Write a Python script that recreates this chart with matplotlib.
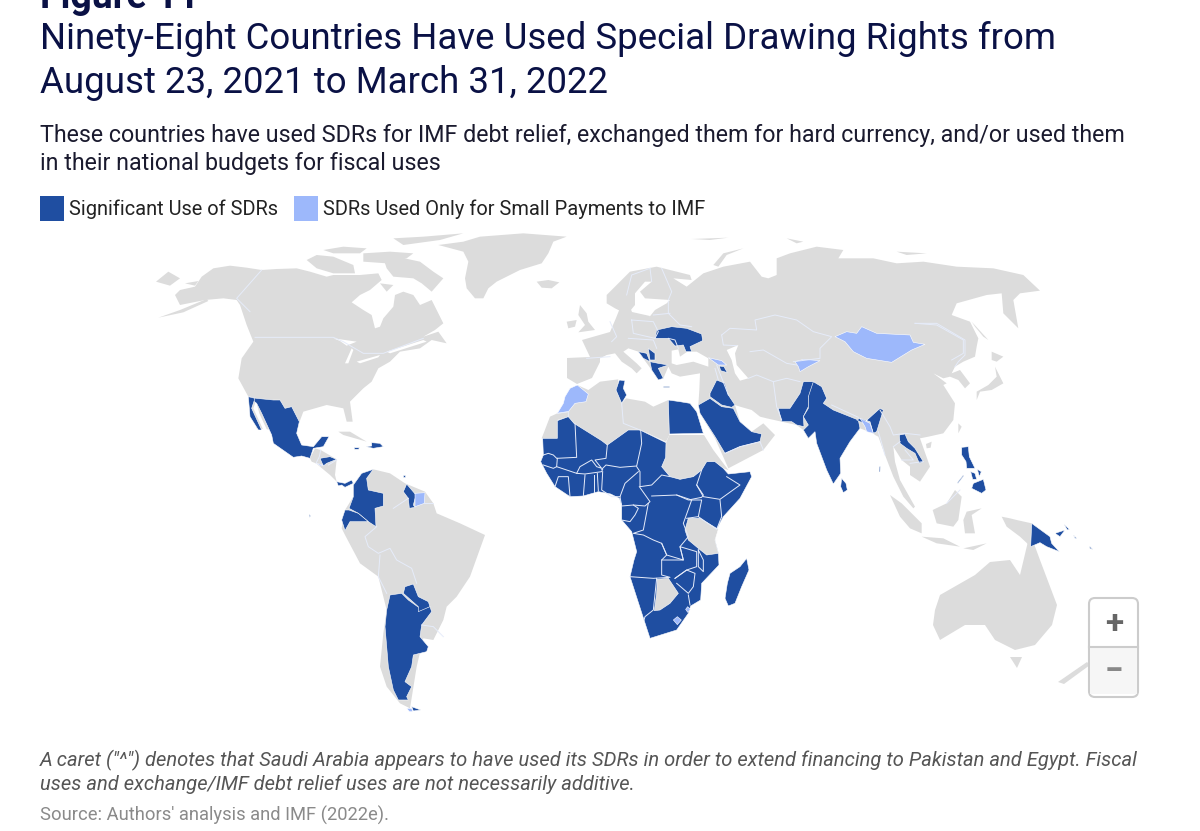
import matplotlib
matplotlib.use("Agg")
import matplotlib.pyplot as plt
from matplotlib.patches import FancyBboxPatch, Rectangle

plt.rcParams['font.family'] = ['Roboto', 'DejaVu Sans']

GREY, DARK, LIGHT = '#dcdcdc', '#1f4ea1', '#9db8fb'
NAVY = '#0a1145'

AFR = (520, 370); AM = (230, 380); ASI = (600, 310); EAS = (860, 320); NAM = (130, 225); EUR = (590, 225); PX = (0, 0)

north_america = [(135,210),(150,195),(195,185),(215,155),(250,130),(300,122),(350,128),(395,135),(440,132),(500,130),(540,140),(590,155),(610,150),(650,150),(690,150),(745,145),(755,165),(720,195),(690,210),(665,232),(700,255),(725,270),(735,310),(750,305),(760,280),(790,245),(795,210),(820,200),(850,210),(870,240),(905,225),(925,265),(940,295),(915,315),(880,335),(925,320),(950,355),(905,345),(870,370),(810,380),(780,410),(745,430),(725,470),(700,490),(660,530),(668,590),(650,590),(640,550),(590,540),(520,560),(505,600),(480,620),(380,610),(355,515),(325,460),(335,400),(370,350),(350,300),(330,240),(320,225),(280,220),(225,225),(150,240)]
alaska_pen = [(85,278),(150,255),(230,222),(235,228),(160,262)]
baffin = [(760,100),(800,95),(870,110),(910,140),(940,160),(905,200),(875,175),(850,160),(790,155),(770,130)]
victoria = [(530,105),(560,90),(610,95),(670,120),(675,145),(610,145),(560,130)]
ellesmere = [(790,40),(880,35),(1000,25),(930,45),(820,60)]
arctic_a = [(580,75),(640,65),(710,70),(690,85),(610,85)]
arctic_b = [(700,85),(780,80),(850,85),(830,100),(770,115),(700,110)]
arctic_c = [(750,175),(790,180),(770,200)]
greenland = [(925,60),(1000,50),(1050,35),(1180,25),(1310,35),(1270,50),(1255,85),(1235,115),(1170,135),(1100,170),(1075,190),(1060,220),(1035,220),(1010,190),(1005,160),(1015,110),(1000,80)]
iceland = [(1220,170),(1255,165),(1288,172),(1265,190),(1235,188)]
chukotka = [(78,170),(115,140),(150,160),(120,182)]
st_law = [(165,175),(205,168),(195,182)]
britain = [(1350,240),(1370,265),(1375,290),(1395,315),(1345,322),(1365,300),(1345,270)]
ireland = [(1310,290),(1340,285),(1335,305),(1315,310)]
svalbard = [(590,40),(640,50),(620,55)]
novaya = [(370,120),(400,85),(460,70),(410,90),(385,125)]
franz = [(305,42),(415,38),(360,45)]
severnaya = [(920,80),(1010,85),(950,90)]
eurasia_n = [(50,210),(120,140),(200,125),(300,150),(305,165),(250,160),(290,185),(340,145),(400,125),(480,110),(515,155),(535,160),(560,150),(560,100),(600,85),(680,65),(760,75),(745,100),(850,100),(920,115),(1000,110),(1100,125),(1210,130),(1300,150),(1350,197),(1290,205),(1270,225),(1285,310),(1240,265),(1235,205),(1190,210),(1100,235),(1085,270),(1140,290),(1165,340),(1160,365)]
eurasia_e = [(350,80),(345,110),(310,125),(285,140),(275,160),(300,150),(330,190),(315,205),(295,180),(270,170),(250,175),(220,160),(260,190),(250,195),(285,250),(280,300),(250,340),(205,350),(180,355),(210,440),(180,485),(150,465),(150,440),(125,420),(100,380),(105,425),(120,480),(165,560),(160,565),(130,530),(100,470),(75,405),(55,350),(45,345)]
eurasia_s = [(820,370),(780,355),(750,395),(720,445),(722,490),(700,522),(680,480),(650,400),(645,365),(625,385),(610,360),(590,345),(545,335),(500,325),(480,320),(455,300),(420,290),(405,285),(420,335),(455,365),(490,340),(525,375),(490,420),(385,475),(345,385),(300,310),(295,285),(298,240),(300,190),(240,200),(215,190),(205,170),(190,205),(175,210),(155,180),(115,125),(85,115),(70,125),(110,160),(125,175),(110,190),(95,175),(65,155),(45,130),(20,135),(0,145)]
europe_w = [(600,362),(592,378),(577,384),(567,378),(567,358),(590,357),(582,340),(610,332),(616,318),(620,308),(628,302),(632,312),(650,316)]
europe_n = [(175,280),(195,255),(230,235),(240,225),(165,220),(150,200),(185,170),(165,170),(135,205),(135,240),(110,270),(95,260),(75,250),(50,235)]
black_sea = [(215,122),(235,118),(240,140),(262,125),(290,125),(325,145),(325,170),(280,155),(230,165),(215,160)]
caspian = [(380,120),(415,105),(405,130),(410,165),(445,205),(420,212),(405,190),(395,150)]
lake_sup = [(610,340),(680,350),(650,362),(630,348)]
lake_mic = [(645,415),(665,370),(670,375),(655,415)]
lake_hur = [(680,410),(750,390),(745,397),(690,415)]
st_lawrence = [(770,380),(880,345),(890,350),(780,385)]
sakhalin = [(335,5),(385,60),(370,50),(345,20)]
hokkaido = [(395,95),(430,110),(410,125),(395,120)]
honshu = [(405,140),(430,190),(395,210),(360,215),(350,240),(350,215),(385,195),(410,170)]
taiwan = [(295,310),(305,320),(295,340)]
hainan = [(198,372),(215,365),(212,383),(200,385)]
sumatra = [(90,525),(125,550),(185,610),(185,640),(150,625),(120,590)]
java = [(185,650),(250,655),(300,680),(230,670)]
sunda = [(310,685),(380,670),(340,690)]
borneo = [(285,510),(305,530),(295,600),(280,620),(230,610),(218,570),(260,550)]
sulawesi = [(320,575),(365,565),(335,585),(345,640),(315,640),(310,600)]
west_papua = [(425,590),(450,595),(470,600),(515,610),(512,680),(480,650),(440,620)]
australia = [(933,625),(935,610),(940,595),(975,575),(990,562),(1010,560),(1020,575),(1030,533),(1040,560),(1057,605),(1052,625),(1035,645),(1015,650),(995,640),(985,625),(965,625),(940,640)]
tasmania = [(1010,657),(1022,657),(1017,668)]
nz_south = [(1058,682),(1087,662),(1090,665),(1064,684)]
nz_north = [(1095,655),(1110,640),(1106,655)]
n_africa = [(172,45),(205,60),(240,35),(295,28),(290,65),(305,100),(318,85),(375,95),(400,110),(445,90),(448,195),(438,215),(362,180),(325,180),(262,225),(245,215),(162,160),(145,140),(112,150),(112,205),(65,205),(90,140),(112,130),(145,125)]
sudan = [(448,195),(552,195),(580,240),(625,300),(610,295),(585,275),(560,275),(545,300),(520,320),(480,328),(450,320),(425,290),(437,262),(438,218)]
s_america = [(395,280),(430,268),(480,280),(525,310),(585,335),(610,370),(620,400),(690,430),(765,465),(720,590),(680,650),(650,680),(640,720),(610,780),(580,775),(560,860),(540,985),(510,970),(470,920),(450,860),(460,760),(470,690),(445,590),(390,550),(345,465),(335,445),(345,390),(370,350),(370,315)]
c_america = [(240,235),(255,205),(272,210),(320,238),(315,285),(320,305),(300,285),(258,250),(245,245)]
cuba = [(325,155),(360,155),(410,185),(375,175),(340,165)]
tanzania = [(505,445),(540,445),(595,478),(585,510),(595,550),(560,555),(535,535),(505,510),(495,480)]
botswana = [(412,628),(445,625),(475,670),(450,700),(420,720),(403,722),(410,670)]

ssa = [(68,205),(112,205),(112,152),(145,140),(162,160),(245,212),(262,225),(325,180),(360,180),(438,218),(437,262),(425,290),(450,320),(480,328),(520,320),(545,300),(560,275),(585,275),(610,295),(625,312),(690,305),(695,320),(660,385),(610,440),(590,478),(585,510),(595,548),(597,585),(545,640),(542,690),(512,708),(505,730),(470,780),(390,805),(372,750),(330,620),(342,570),(350,545),(335,485),(305,450),(305,405),(298,385),(272,372),(235,365),(190,378),(150,380),(105,350),(80,310),(62,275),(70,255)]
madagascar = [(680,565),(687,600),(665,650),(645,700),(625,708),(615,685),(622,640),(630,610),(660,590)]
morocco = [(172,45),(205,72),(198,95),(165,100),(145,125),(112,130),(130,100),(135,80),(150,55)]
lesotho = [(460,750),(472,740),(484,750),(472,764)]
eswatini = [(497,718),(503,710),(511,718),(503,727)]
tunisia = [(58,210),(75,212),(70,235),(80,255),(65,280),(48,240)]
egypt = [(205,270),(240,275),(270,280),(290,305),(310,370),(208,372)]
saudi = [(295,285),(330,265),(365,290),(400,295),(420,335),(455,365),(485,372),(480,395),(420,410),(375,430),(345,380),(300,310)]
iraq = [(330,250),(350,210),(375,220),(385,255),(405,285),(395,292),(365,285),(330,260)]
pakistan = [(535,295),(570,295),(600,250),(610,215),(640,215),(650,240),(625,260),(625,290),(610,320),(612,350),(590,345),(575,335),(545,335)]
india = [(625,260),(640,215),(665,230),(680,265),(670,280),(700,300),(775,330),(780,355),(750,395),(720,445),(722,490),(700,522),(680,480),(650,400),(645,365),(625,385),(610,360),(625,345),(610,320),(625,295)]
india_ne = [(770,330),(790,340),(840,295),(850,300),(830,365),(820,370),(810,335),(780,325)]
sri_lanka = [(725,505),(738,520),(742,540),(730,548),(722,530)]
bangladesh = [(780,325),(810,340),(820,370),(800,365),(795,350)]
ukraine = [(170,60),(215,50),(260,55),(305,72),(308,92),(270,110),(275,125),(258,125),(250,105),(225,108),(205,85),(165,85)]
bosnia = [(115,125),(140,130),(150,155),(130,145)]
serbia = [(145,115),(165,130),(165,150),(150,150)]
greece = [(150,155),(175,160),(205,165),(175,175),(190,205),(175,210),(155,180)]
crete = [(188,228),(208,228),(208,232),(188,232)]
armenia = [(358,168),(372,170),(382,188),(362,182)]
georgia = [(325,143),(365,152),(380,165),(355,165)]
kyrgyz = [(585,155),(610,148),(660,152),(625,170),(600,185),(595,170)]
mongolia = [(735,335),(770,320),(800,325),(815,305),(860,325),(960,330),(970,352),(1005,358),(965,375),(905,412),(830,400),(790,380),(765,350)]
laos = [(118,345),(135,342),(145,365),(165,385),(190,425),(178,430),(165,400),(140,385),(120,370)]
luzon = [(305,382),(325,380),(328,410),(345,445),(320,445),(318,425),(305,405)]
mindanao = [(340,490),(370,478),(378,510),(365,520),(335,505)]
visayas_a = [(332,455),(345,460),(350,478),(338,478)]
visayas_b = [(352,448),(364,455),(358,470)]
palawan = [(292,488),(310,465),(311,468),(294,490)]
maldives = [(58,440),(61,440),(60,456),(57,456)]
png = [(515,610),(570,650),(575,670),(598,695),(560,680),(540,668),(512,680)]
new_britain = [(585,640),(615,630),(600,650)]
new_ireland = [(612,612),(628,628),(622,630)]
solomon_a = [(640,645),(650,655),(645,655)]
solomon_b = [(688,678),(698,688),(690,686)]
mexico = [(55,50),(80,55),(130,60),(150,60),(165,85),(185,80),(208,125),(200,160),(215,195),(250,200),(275,170),(297,170),(280,200),(250,205),(240,235),(215,228),(190,232),(130,190),(125,165),(95,100),(80,70),(60,55)]
baja = [(55,50),(75,55),(65,85),(95,150),(85,150),(60,110)]
gulf_ca = [(78,62),(88,100),(118,165),(100,150),(70,85)]
honduras = [(270,235),(300,230),(320,238),(290,250),(280,258)]
salvador = [(258,250),(280,255),(272,258)]
panama = [(320,305),(345,310),(365,300),(370,310),(345,322),(335,315),(325,318)]
colombia = [(430,268),(410,295),(415,330),(460,340),(460,378),(435,385),(438,440),(415,425),(385,400),(357,385),(370,350),(370,315),(395,280)]
ecuador = [(357,390),(385,400),(415,425),(360,425),(345,452),(335,420),(345,390)]
guyana = [(530,312),(558,345),(550,375),(555,382),(538,385),(535,355),(520,335)]
suriname = [(555,340),(585,338),(583,370),(555,380)]
argentina = [(480,645),(515,640),(535,660),(570,685),(600,680),(605,695),(575,735),(570,770),(595,800),(590,815),(550,825),(545,860),(525,905),(545,920),(530,950),(535,960),(505,960),(490,930),(475,860),(465,740),(470,690)]
paraguay = [(525,620),(550,612),(565,650),(595,665),(600,680),(565,695),(565,680),(520,640)]
fuego = [(545,980),(572,990),(550,993)]
fuego_l = [(530,985),(545,985),(548,995),(538,995)]
haiti = [(408,200),(425,198),(425,188),(450,190),(460,200),(430,205)]
jamaica = [(372,203),(388,203),(386,208),(374,208)]
trinidad = [(518,286),(524,286),(524,292),(518,292)]
galapagos = [(237,403),(242,408),(238,412)]

grey_areas = [(NAM, north_america), (NAM, alaska_pen), (NAM, baffin), (NAM, victoria), (NAM, ellesmere), (NAM, arctic_a), (NAM, arctic_b), (NAM, arctic_c), (NAM, greenland), (NAM, iceland), (NAM, chukotka), (NAM, st_law), (NAM, britain), (NAM, ireland),
              (EUR, svalbard), (EUR, novaya), (EUR, franz), (EUR, severnaya),
              (EAS, sakhalin), (EAS, hokkaido), (EAS, honshu), (EAS, taiwan), (EAS, hainan), (EAS, sumatra), (EAS, java), (EAS, sunda), (EAS, borneo), (EAS, sulawesi), (EAS, west_papua),
              (PX, australia), (PX, tasmania), (PX, nz_south), (PX, nz_north), (AFR, n_africa), (AFR, sudan), (AM, s_america), (AM, c_america), (AM, cuba)]
water = [(ASI, black_sea), (ASI, caspian), (NAM, lake_sup), (NAM, lake_mic), (NAM, lake_hur), (NAM, st_lawrence), (AM, gulf_ca)]
dark_areas = [(AFR, ssa), (AFR, madagascar), (ASI, tunisia), (ASI, egypt), (ASI, saudi), (ASI, iraq), (ASI, pakistan), (ASI, india), (ASI, india_ne), (ASI, sri_lanka), (ASI, ukraine), (ASI, bosnia), (ASI, serbia), (ASI, greece), (ASI, crete), (ASI, armenia),
              (EAS, laos), (EAS, luzon), (EAS, mindanao), (EAS, visayas_a), (EAS, visayas_b), (EAS, palawan), (EAS, maldives), (EAS, png), (EAS, new_britain), (EAS, new_ireland), (EAS, solomon_a), (EAS, solomon_b),
              (AM, mexico), (AM, baja), (AM, honduras), (AM, panama), (AM, colombia), (AM, ecuador), (AM, guyana), (AM, argentina), (AM, paraguay), (AM, fuego), (AM, haiti), (AM, jamaica), (AM, trinidad), (AM, galapagos)]
light_areas = [(AFR, morocco), (AFR, lesotho), (AFR, eswatini), (ASI, bangladesh), (ASI, georgia), (ASI, kyrgyz), (EUR, mongolia), (AM, suriname), (AM, fuego_l), (AM, salvador)]
grey_on_top = [(AFR, tanzania), (AFR, botswana)]

border_lines = [
 (AFR, [(165,160),(170,262),(110,265),(100,255),(85,250),(70,255)]), (AFR, [(70,285),(100,295),(110,290),(112,265)]),
 (AFR, [(110,290),(140,300),(170,310),(180,290),(215,270),(230,290),(245,295),(225,270),(258,265),(262,225)]),
 (AFR, [(170,310),(195,312),(245,305),(248,298)]), (AFR, [(245,298),(258,285),(300,292),(350,288),(365,220),(362,180)]),
 (AFR, [(350,290),(360,305),(360,350),(395,345),(425,315),(450,320)]), (AFR, [(248,305),(245,360),(275,380),(300,380),(315,340),(355,305)]),
 (AFR, [(300,380),(305,408),(340,405),(375,408),(390,395),(358,350)]), (AFR, [(395,378),(470,375),(500,385),(515,390),(490,460),(505,500),(480,530),(490,570),(440,555),(425,520),(400,510),(370,495),(340,490),(370,480),(385,400)]),
 (AFR, [(470,375),(505,390),(545,382),(550,375),(530,345),(545,300)]), (AFR, [(530,345),(550,380),(600,388),(660,345),(620,320)]),
 (AFR, [(510,390),(545,390),(535,440),(500,445)]), (AFR, [(600,390),(605,440),(590,478),(535,440)]),
 (AFR, [(425,520),(440,555),(425,570),(425,615),(450,622),(400,625),(330,620)]), (AFR, [(425,570),(490,570),(480,530),(530,545),(530,590),(500,600),(465,625)]),
 (AFR, [(535,540),(535,590),(550,605),(550,570),(535,540)]), (AFR, [(465,625),(500,600),(525,610),(520,650),(505,670),(470,640)]),
 (AFR, [(410,625),(400,720),(375,740),(372,750)]), (AFR, [(505,675),(510,705)]), (AFR, [(105,350),(115,320),(145,320),(150,380)]),
 (AFR, [(190,378),(195,315)]), (AFR, [(222,365),(222,315)]), (AFR, [(235,362),(232,310)]), (AFR, [(305,450),(330,455),(345,435),(355,415),(340,405)]),
 (AFR, [(305,100),(310,160),(360,180)]), (AFR, [(112,130),(145,125),(145,140)]),
 (ASI, [(375,430),(420,410),(480,395),(490,420)]), (ASI, [(345,175),(355,210)]), (ASI, [(350,165),(385,255)]), (ASI, [(445,205),(470,195),(520,215),(530,290),(545,330)]),
 (ASI, [(520,215),(560,205),(600,215)]), (ASI, [(450,125),(490,120),(560,160),(590,165)]), (ASI, [(695,285),(775,322)]), (ASI, [(205,85),(225,90),(235,115)]),
 (EUR, [(395,330),(420,310),(500,315),(495,285),(555,270),(620,285),(670,320),(725,335),(690,370),(690,400),(610,410)]),
 (EUR, [(395,330),(400,360),(440,362)]), (EUR, [(975,295),(1040,300),(1120,345),(1120,385),(1085,405)]), (EUR, [(110,210),(125,150),(180,130)]),
 (EUR, [(185,170),(180,130)]), (EUR, [(215,130),(245,200),(235,225)]), (EUR, [(235,230),(235,265),(270,300),(305,305)]),
 (EUR, [(125,285),(190,290),(205,320),(195,340),(130,325),(125,285)]), (EUR, [(190,270),(240,265)]), (EUR, [(60,290),(80,335),(65,350)]), (EUR, [(115,340),(190,345),(200,370)]),
 (EAS, [(60,270),(90,320),(100,345),(135,340),(180,345)]), (EAS, [(55,335),(75,405)]), (EAS, [(100,380),(120,365)]), (EAS, [(135,390),(160,420),(125,420)]), (EAS, [(150,430),(190,425)]),
 (EAS, [(165,10),(230,10),(315,60),(315,105),(295,125),(285,140)]), (EAS, [(260,550),(300,510)]),
 (NAM, [(375,337),(610,337),(640,350),(700,385),(760,385),(880,340)]), (NAM, [(395,135),(320,220),(360,260)]), (NAM, [(1370,400),(1440,395)]),
 (AM, [(440,440),(405,470),(415,500),(445,520),(480,505),(500,540),(545,565),(560,610)]), (AM, [(450,525),(445,590),(470,640)]), (AM, [(575,735),(610,740),(640,770)]),
 (AM, [(490,385),(535,355)]), (AM, [(583,370),(610,370)]), (AM, [(272,210),(268,230),(258,250)]), (AM, [(295,255),(320,240)]),
]

title_top = 'Figure 11'
title_lines = ['Ninety-Eight Countries Have Used Special Drawing Rights from', 'August 23, 2021 to March 31, 2022']
subtitle_lines = ['These countries have used SDRs for IMF debt relief, exchanged them for hard currency, and/or used them', 'in their national budgets for fiscal uses']
legend_labels = ['Significant Use of SDRs', 'SDRs Used Only for Small Payments to IMF']
note_lines = ['A caret ("^") denotes that Saudi Arabia appears to have used its SDRs in order to extend financing to Pakistan and Egypt. Fiscal', 'uses and exchange/IMF debt relief uses are not necessarily additive.']
source = "Source: Authors' analysis and IMF (2022e)."


def place(origin, pts):
    if origin == PX:
        return [p[0] for p in pts], [p[1] for p in pts]
    return [origin[0] + p[0] / 3 for p in pts], [origin[1] + p[1] / 3 for p in pts]


fig = plt.figure(figsize=(12, 8.31), dpi=100)
ax = fig.add_axes([0, 0, 1, 1])
ax.set_xlim(0, 1200); ax.set_ylim(831, 0); ax.axis('off')

# Eurasia is one outline stitched from three sheets plus the west European coast
ex1, ey1 = place(EUR, eurasia_n)
ex2, ey2 = place(EAS, eurasia_e)
ex3, ey3 = place(ASI, eurasia_s)
ex4, ey4 = place(PX, europe_w)
ex5, ey5 = place(EUR, europe_n)
ax.fill(ex1 + ex2 + ex3 + ex4 + ex5, ey1 + ey2 + ey3 + ey4 + ey5, fc=GREY, ec='none', zorder=1)

for o, pts in grey_areas:
    x, y = place(o, pts); ax.fill(x, y, fc=GREY, ec='none', zorder=1)
for o, pts in water:
    x, y = place(o, pts); ax.fill(x, y, fc='white', ec='none', zorder=2)
for o, pts in dark_areas:
    x, y = place(o, pts); ax.fill(x, y, fc=DARK, ec='white', lw=0.4, zorder=3)
for o, pts in grey_on_top:
    x, y = place(o, pts); ax.fill(x, y, fc=GREY, ec='white', lw=0.4, zorder=4)
for o, pts in light_areas:
    x, y = place(o, pts); ax.fill(x, y, fc=LIGHT, ec='white', lw=0.4, zorder=4)
for o, pts in border_lines:
    x, y = place(o, pts); ax.plot(x, y, color='#e6ecfa', lw=0.7, zorder=5, solid_joinstyle='round')

ax.text(40, 8, title_top, fontsize=27, fontweight='bold', color=NAVY, va='baseline', zorder=6, clip_on=True)
ax.text(40, 49, title_lines[0], fontsize=26.4, color=NAVY, va='baseline')
ax.text(40, 93, title_lines[1], fontsize=26.4, color=NAVY, va='baseline')
ax.text(40, 142, subtitle_lines[0], fontsize=16.77, color='#1a1a2e', va='baseline')
ax.text(40, 170, subtitle_lines[1], fontsize=16.77, color='#1a1a2e', va='baseline')

ax.add_patch(Rectangle((40, 196), 24, 25, fc=DARK, ec='none'))
ax.text(69, 215, legend_labels[0], fontsize=14.4, color='#222222', va='baseline')
ax.add_patch(Rectangle((294, 196), 24, 25, fc=LIGHT, ec='none'))
ax.text(323, 215, legend_labels[1], fontsize=14.4, color='#222222', va='baseline')

ax.text(40, 766, note_lines[0], fontsize=14.5, style='italic', color='#555555', va='baseline')
ax.text(40, 790, note_lines[1], fontsize=14.5, style='italic', color='#555555', va='baseline')
ax.text(40, 821, source, fontsize=13.2, color='#8a8a8a', va='baseline')

ax.add_patch(FancyBboxPatch((1089, 598), 49, 99, boxstyle='round,pad=0,rounding_size=6', fc='white', ec='#cccccc', lw=1.5, zorder=7))
ax.add_patch(Rectangle((1090, 648), 47, 46, fc='#f6f6f6', ec='none', zorder=7))
ax.plot([1089, 1138], [647, 647], color='#cccccc', lw=1.5, zorder=8)
ax.text(1114, 624, '+', fontsize=24, fontweight='bold', color='#666666', ha='center', va='center', zorder=9)
ax.text(1114, 672, '\u2212', fontsize=24, fontweight='bold', color='#888888', ha='center', va='center', zorder=9)

fig.savefig('out.png', dpi=100)
